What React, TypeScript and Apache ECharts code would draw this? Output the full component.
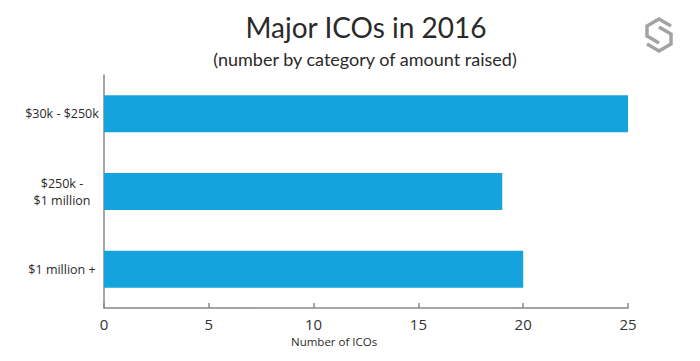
import React, { useEffect, useRef } from "react";
import * as echarts from "echarts";

const categories = ["$30k - $250k", "$250k -\n$1 million", "$1 million +"];
const icoCounts = [25, 19, 20];
const xTicks = [0, 5, 10, 15, 20, 25];

const LOGO_PATH =
  "M26 9 L14 2 L2 9 L2 19 L14 26 M2 27 L14 34 L26 27 L26 17 L14 10";

export default function App() {
  const ref = useRef<HTMLDivElement>(null);
  useEffect(() => {
    if (!ref.current) return;
    try {
      echarts.graphic.registerShape("logo", echarts.graphic.extendPath(LOGO_PATH, {}) as any);
    } catch (e) {}
    const chart = echarts.init(ref.current, null, { renderer: "svg" });
    chart.setOption({
      animation: false,
      backgroundColor: "#ffffff",
      title: [
        {
          text: "Major ICOs in 2016",
          left: 361,
          top: 8,
          textAlign: "center",
          textStyle: { fontFamily: "Lato", fontSize: 28, fontWeight: "normal", color: "#2a2a2a" },
        },
        {
          text: "(number by category of amount raised)",
          left: 360,
          top: 45,
          textAlign: "center",
          textStyle: { fontFamily: "Lato", fontSize: 18, fontWeight: "normal", color: "#2a2a2a" },
        },
      ],
      grid: { left: 104, right: 72, top: 75, bottom: 53, containLabel: false },
      xAxis: {
        type: "value",
        min: 0,
        max: 25,
        interval: 5,
        axisLine: { show: true, lineStyle: { color: "#888", width: 1.5 } },
        axisTick: { show: true, inside: true, length: 5, lineStyle: { color: "#888", width: 1.5 } },
        splitLine: { show: false },
        axisLabel: {
          margin: 8,
          fontFamily: "Open Sans",
          fontSize: 15,
          color: "#333",
          formatter: (v: number) => (xTicks.includes(v) ? String(v) : ""),
        },
      },
      yAxis: {
        type: "category",
        data: categories,
        inverse: true,
        axisLine: { show: true, lineStyle: { color: "#888", width: 1.5 } },
        axisTick: { show: false },
        axisLabel: {
          margin: 42,
          align: "center",
          fontFamily: "Open Sans",
          fontSize: 12.5,
          lineHeight: 17,
          color: "#2a2a2a",
        },
      },
      series: [
        {
          type: "bar",
          data: icoCounts,
          barWidth: 37,
          itemStyle: { color: "#14a3dd" },
        },
      ],
      graphic: [
        {
          type: "text",
          left: 291,
          top: 335,
          style: {
            text: "Number of ICOs",
            fontFamily: "Open Sans",
            fontSize: 11.5,
            fill: "#2a2a2a",
          },
        },
        {
          type: "logo",
          x: 645,
          y: 17,
          scaleX: 1,
          scaleY: 1,
          style: { fill: "none", stroke: "#a3a3a3", lineWidth: 3.5, lineJoin: "miter" },
        },
      ],
    });
    return () => chart.dispose();
  }, []);
  return <div ref={ref} style={{ width: 700, height: 361, margin: -8 }} />;
}
